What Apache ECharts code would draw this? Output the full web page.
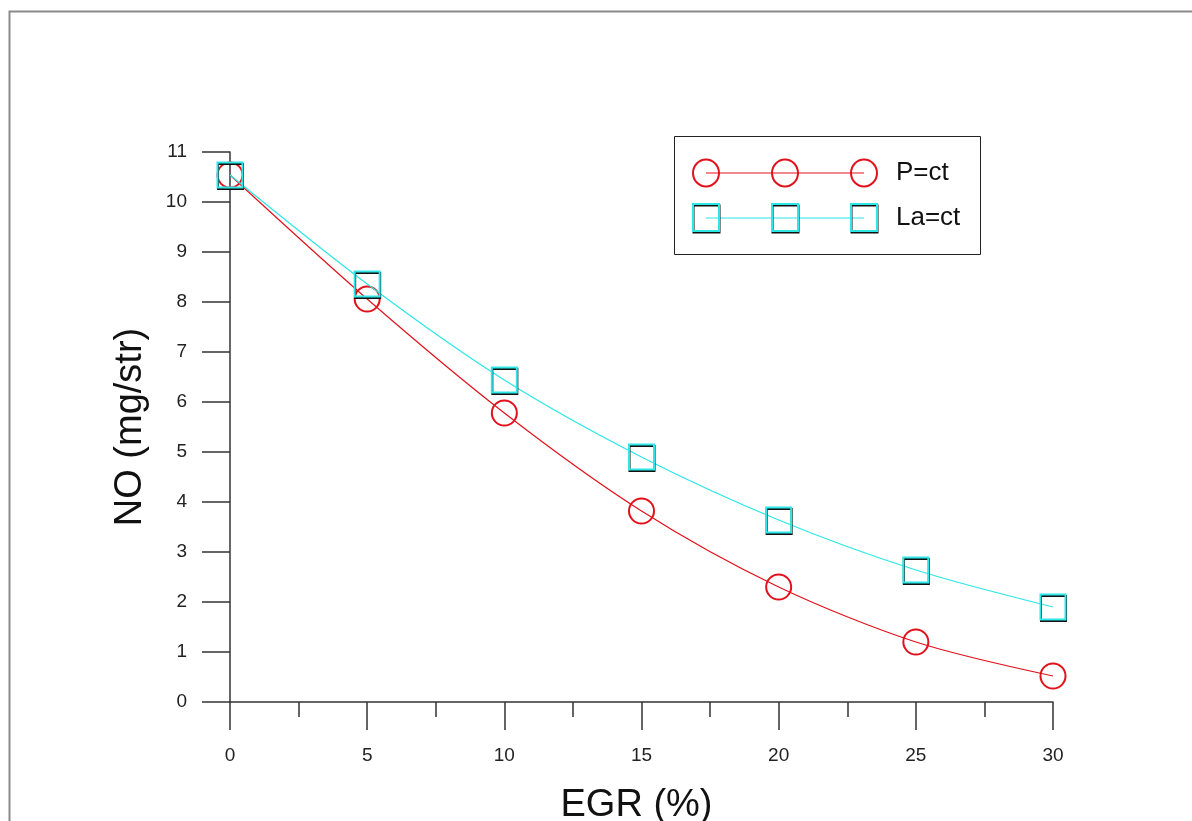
<!DOCTYPE html>
<html>
<head>
<meta charset="utf-8">
<script src="https://cdn.jsdelivr.net/npm/echarts@6/dist/echarts.min.js"></script>
<style>
  html, body { margin: 0; padding: 0; background: #fff; }
  #chart { width: 1192px; height: 821px; }
</style>
</head>
<body>
<div id="chart"></div>
<script>
// EGR rate (%)
const egr = [0, 5, 10, 15, 20, 25, 30];
// NO emission (mg/stroke) at constant pressure
const noPct = [10.54, 8.06, 5.78, 3.82, 2.30, 1.20, 0.52];
// NO emission (mg/stroke) at constant lambda
const noLact = [10.54, 8.36, 6.44, 4.90, 3.64, 2.64, 1.90];
const seriesNames = ['P=ct', 'La=ct'];

const RED = '#e2121c';
const CYAN = '#2ee6e6';
const AXIS = '#333';
const FONT = '"Liberation Sans", Arial, sans-serif';

const chart = echarts.init(document.getElementById('chart'), null, { renderer: 'canvas' });

function pairs(xs, ys) { return xs.map((x, i) => [x, ys[i]]); }

// Legend drawn as a framed box with three markers per row
const legendX = [706, 785, 864];
const legendRows = [
  { y: 173, name: seriesNames[0], color: RED, symbol: 'circle' },
  { y: 218, name: seriesNames[1], color: CYAN, symbol: 'square' }
];
const legendGraphics = [{
  type: 'rect',
  shape: { x: 674.5, y: 136.5, width: 306, height: 118 },
  style: { fill: '#fff', stroke: '#222', lineWidth: 1 },
  z: 10
}];
legendRows.forEach(r => {
  legendGraphics.push({
    type: 'line',
    shape: { x1: legendX[0], y1: r.y, x2: legendX[2], y2: r.y },
    style: { stroke: r.color, lineWidth: 1.2 },
    z: 11
  });
  legendX.forEach(x => {
    if (r.symbol === 'circle') {
      legendGraphics.push({
        type: 'ellipse',
        shape: { cx: x, cy: r.y, rx: 13, ry: 13.5 },
        style: { fill: 'none', stroke: r.color, lineWidth: 2 },
        z: 12
      });
    } else {
      legendGraphics.push({
        type: 'rect',
        shape: { x: x - 13, y: r.y - 14, width: 26, height: 27 },
        style: { fill: 'none', stroke: r.color, lineWidth: 2,
                 shadowColor: '#111', shadowOffsetY: 1.5, shadowOffsetX: 0.5, shadowBlur: 0 },
        z: 12
      });
    }
  });
  legendGraphics.push({
    type: 'text',
    x: 896, y: r.y,
    style: { text: r.name, font: '26px ' + FONT, fill: '#111', textVerticalAlign: 'middle' },
    z: 12
  });
});

const option = {
  backgroundColor: '#fff',
  animation: false,
  grid: { left: 230, top: 152, right: 139, bottom: 119, containLabel: false, outerBoundsMode: 'none' },
  xAxis: {
    type: 'value', min: 0, max: 30, interval: 5,
    name: 'EGR (%)', nameLocation: 'middle', nameGap: 85,
    nameTextStyle: { fontFamily: FONT, fontSize: 38, color: '#111', padding: [0, 10, 0, 0] },
    axisLine: { show: true, onZero: false, lineStyle: { color: AXIS, width: 1.5 } },
    axisTick: { show: true, inside: false, length: 28, lineStyle: { color: AXIS, width: 1.5 } },
    minorTick: { show: true, splitNumber: 2, length: 15, lineStyle: { color: AXIS, width: 1.5 } },
    axisLabel: { margin: 44, fontFamily: FONT, fontSize: 19, color: '#222' },
    splitLine: { show: false }
  },
  yAxis: {
    type: 'value', min: 0, max: 11, interval: 1,
    name: 'NO (mg/str)', nameLocation: 'middle', nameGap: 80, nameRotate: 90,
    nameTextStyle: { fontFamily: FONT, fontSize: 38, color: '#111' },
    axisLine: { show: true, onZero: false, lineStyle: { color: AXIS, width: 1.5 } },
    axisTick: { show: true, inside: false, length: 28, lineStyle: { color: AXIS, width: 1.5 } },
    axisLabel: { margin: 43, fontFamily: FONT, fontSize: 19, color: '#222' },
    splitLine: { show: false }
  },
  series: [
    {
      name: seriesNames[0], type: 'line', smooth: 0.3,
      data: pairs(egr, noPct),
      symbol: 'circle', symbolSize: 25,
      lineStyle: { color: RED, width: 1.2 },
      itemStyle: { color: 'rgba(0,0,0,0)', borderColor: RED, borderWidth: 2 },
      z: 3
    },
    {
      name: seriesNames[1], type: 'line', smooth: 0.3,
      data: pairs(egr, noLact),
      symbol: 'rect', symbolSize: 25,
      lineStyle: { color: CYAN, width: 1.2 },
      itemStyle: { color: 'rgba(0,0,0,0)', borderColor: CYAN, borderWidth: 2,
                   shadowColor: '#111', shadowOffsetY: 1.5, shadowOffsetX: 0.5, shadowBlur: 0 },
      z: 4
    }
  ],
  graphic: [
    {
      type: 'rect',
      shape: { x: 9.5, y: 11.5, width: 1300, height: 900 },
      style: { fill: 'none', stroke: '#8a8a8a', lineWidth: 2 },
      z: 0, silent: true
    }
  ].concat(legendGraphics)
};

chart.setOption(option);
</script>
</body>
</html>
